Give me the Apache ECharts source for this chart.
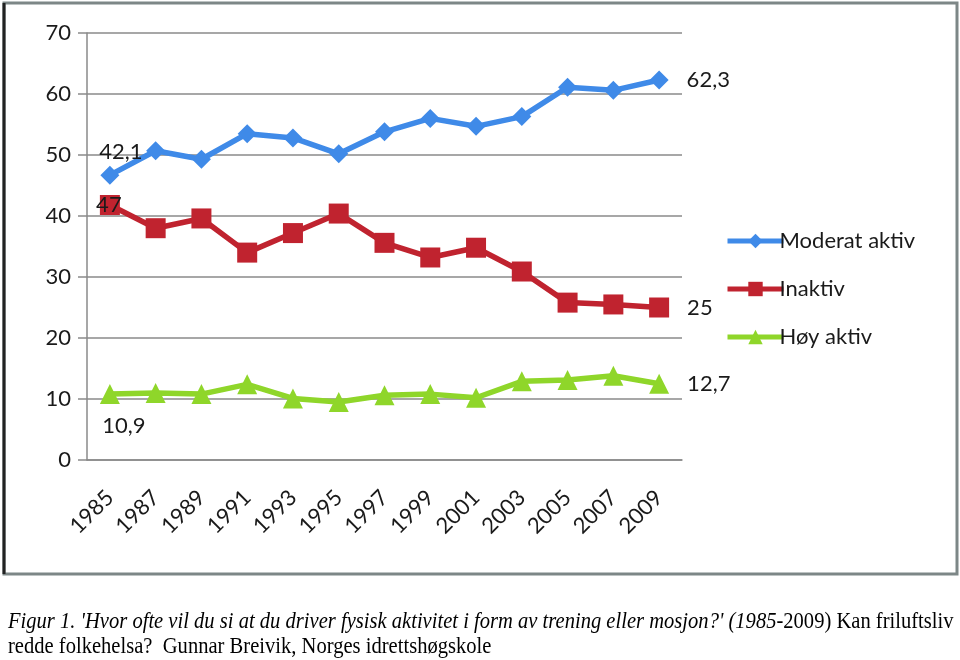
<!DOCTYPE html>
<html>
<head>
<meta charset="utf-8">
<script src="https://cdn.jsdelivr.net/npm/echarts@6/dist/echarts.min.js"></script>
<style>
html,body{margin:0;padding:0;background:#fff;}
#chart{width:960px;height:660px;}
</style>
</head>
<body>
<div id="chart"></div>
<script>
const categories = ['1985','1987','1989','1991','1993','1995','1997','1999','2001','2003','2005','2007','2009'];
const moderatValues = [46.7, 50.7, 49.3, 53.5, 52.8, 50.2, 53.8, 56.0, 54.7, 56.3, 61.1, 60.6, 62.3];
const inaktivValues = [41.8, 38.0, 39.6, 34.0, 37.2, 40.4, 35.6, 33.2, 34.8, 30.9, 25.8, 25.5, 25.0];
const hoyValues = [10.8, 11.0, 10.8, 12.4, 10.1, 9.5, 10.6, 10.8, 10.2, 12.9, 13.1, 13.8, 12.5];
const seriesNames = ['Moderat aktiv', 'Inaktiv', 'Høy aktiv'];
const moderatLabels = {0: '42,1', 12: '62,3'};
const inaktivLabels = {0: '47', 12: '25'};
const hoyLabels = {0: '10,9', 12: '12,7'};
const yTicks = {min: 0, max: 70, step: 10};
const captionItalic = "Figur 1. 'Hvor ofte vil du si at du driver fysisk aktivitet i form av trening eller mosjon?' (1985";
const captionNormal = "-2009) Kan friluftsliv";
const captionLine2 = "redde folkehelsa?  Gunnar Breivik, Norges idrettshøgskole";

const FONT = 'Lato, "Open Sans", sans-serif';
const labelBase = {show: true, color: '#1a1a1a', fontSize: 22, fontFamily: FONT};

function buildData(values, labels, firstLabel, lastLabel) {
  return values.map((v, i) => {
    if (labels[i] === undefined) return v;
    const cfg = i === 0 ? firstLabel : lastLabel;
    return {value: v, label: Object.assign({}, labelBase, cfg, {formatter: labels[i]})};
  });
}

const chart = echarts.init(document.getElementById('chart'));
chart.setOption({
  backgroundColor: '#fff',
  animation: false,
  grid: {left: 87, right: 278, top: 33, bottom: 200},
  legend: {
    orient: 'vertical',
    left: 720,
    top: 225,
    itemWidth: 56,
    itemHeight: 18,
    itemGap: 26,
    lineStyle: {width: 5},
    textStyle: {fontSize: 22, color: '#1a1a1a', fontFamily: FONT, padding: [0,0,0,-9]},
    data: seriesNames
  },
  xAxis: {
    type: 'category',
    data: categories,
    boundaryGap: true,
    axisLine: {lineStyle: {color: '#8a8a8a', width: 1.5}},
    axisTick: {length: 8, lineStyle: {color: '#8a8a8a', width: 1.5}},
    axisLabel: {rotate: 45, fontSize: 22, color: '#1a1a1a', fontFamily: FONT, margin: 34, interval: 0}
  },
  yAxis: {
    type: 'value',
    min: yTicks.min, max: yTicks.max, interval: yTicks.step,
    axisLine: {show: true, lineStyle: {color: '#8a8a8a', width: 1.5}},
    axisTick: {show: true, length: 9, lineStyle: {color: '#8a8a8a', width: 1.5}},
    splitLine: {lineStyle: {color: '#8a8a8a', width: 1.5}},
    axisLabel: {fontSize: 22, color: '#1a1a1a', fontFamily: FONT, margin: 16}
  },
  series: [
    {
      name: seriesNames[0], type: 'line', data: buildData(moderatValues, moderatLabels,
        {position: 'top', offset: [11, 2]}, {position: 'right', distance: 18}),
      symbol: 'diamond', symbolSize: 19,
      color: '#3f8ae8', lineStyle: {width: 5.5, color: '#3f8ae8'}, itemStyle: {color: '#3f8ae8'},
      label: {show: false}, z: 3
    },
    {
      name: seriesNames[1], type: 'line', data: buildData(inaktivValues, inaktivLabels,
        {position: 'inside', offset: [-1, 0]}, {position: 'right', distance: 18}),
      symbol: 'rect', symbolSize: 20,
      color: '#c0232f', lineStyle: {width: 5.5, color: '#c0232f'}, itemStyle: {color: '#c0232f'},
      label: {show: false}, z: 2
    },
    {
      name: seriesNames[2], type: 'line', data: buildData(hoyValues, hoyLabels,
        {position: 'bottom', offset: [14, 6]}, {position: 'right', distance: 18}),
      symbol: 'triangle', symbolSize: 20,
      color: '#8fd62a', lineStyle: {width: 5.5, color: '#8fd62a'}, itemStyle: {color: '#8fd62a'},
      label: {show: false}, z: 2
    }
  ],
  graphic: [
    {type: 'rect', shape: {x: 4, y: 3, width: 953, height: 571}, style: {fill: 'none', stroke: '#7d8787', lineWidth: 3}, z: 10},
    {type: 'line', shape: {x1: 4, y1: 3, x2: 4, y2: 574}, style: {stroke: '#222', lineWidth: 3}, z: 11},
    {
      type: 'text', x: 8, y: 610, scaleX: 0.935, scaleY: 1.08, z: 10,
      style: {
        text: '{i|' + captionItalic + '}{n|' + captionNormal + '}',
        font: '22px "Liberation Serif", serif',
        fill: '#000',
        rich: {
          i: {fontStyle: 'italic', fontSize: 22, fontFamily: '"Liberation Serif", serif', fill: '#000'},
          n: {fontSize: 22, fontFamily: '"Liberation Serif", serif', fill: '#000'}
        }
      }
    },
    {
      type: 'text', x: 8, y: 635, scaleX: 0.935, scaleY: 1.08, z: 10,
      style: {text: captionLine2, font: '22px "Liberation Serif", serif', fill: '#000'}
    }
  ]
});
</script>
</body>
</html>
